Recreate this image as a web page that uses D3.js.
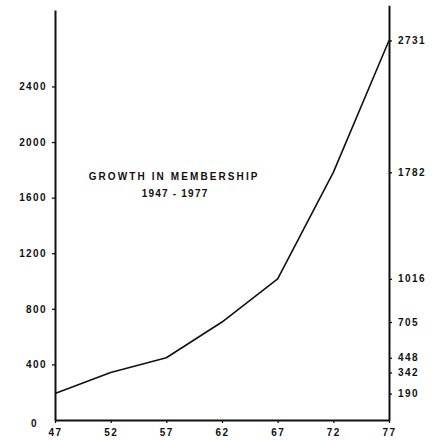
<!DOCTYPE html>
<html>
<head>
<meta charset="utf-8">
<script src="https://cdn.jsdelivr.net/npm/d3@7/dist/d3.min.js"></script>
<style>
  html, body { margin: 0; padding: 0; background: #fff; }
  svg { display: block; }
  text { font-family: "Liberation Sans", Arial, sans-serif; fill: #111; }
</style>
</head>
<body>
<svg id="chart" width="442" height="440"></svg>
<script>
// ---- data ----
const years = [1947, 1952, 1957, 1962, 1967, 1972, 1977];
const members = [190, 342, 448, 705, 1016, 1782, 2731];
const xTickLabels = ["47", "52", "57", "62", "67", "72", "77"];
const leftTicks = [0, 400, 800, 1200, 1600, 2000, 2400];
const rightTicks = [190, 342, 448, 705, 1016, 1782, 2731];
const titleLines = ["GROWTH IN MEMBERSHIP", "1947 - 1977"];
const leftAxisTop = 2950;
const rightAxisTop = 2985;

// ---- layout ----
const svg = d3.select("#chart");
const x = d3.scaleLinear().domain([1947, 1977]).range([55, 389]);
const y = d3.scaleLinear().domain([0, leftAxisTop]).range([420, 10]);

const fontSize = 10;
const letterSp = 1.4;

function styleAxis(g) {
  g.selectAll("text")
    .style("font-size", fontSize + "px")
    .style("font-weight", "bold")
    .style("letter-spacing", letterSp + "px")
    .attr("fill", "#111");
  g.selectAll("line").attr("stroke", "#111").attr("stroke-width", 1.3);
  g.select(".domain").attr("stroke", "#111").attr("stroke-width", 2);
}

// bottom axis
const gx = svg.append("g")
  .attr("transform", `translate(0,${y(0)})`)
  .call(d3.axisBottom(x)
    .tickValues(years)
    .tickFormat((d, i) => xTickLabels[i])
    .tickSize(3).tickSizeOuter(0).tickPadding(6));
styleAxis(gx);

// left axis
const gl = svg.append("g")
  .attr("transform", `translate(${x(1947)},0)`)
  .call(d3.axisLeft(y)
    .tickValues(leftTicks)
    .tickFormat(d3.format("d"))
    .tickSize(3).tickSizeOuter(0).tickPadding(5));
styleAxis(gl);
gl.selectAll(".tick").filter(d => d === 0).select("line").remove();
gl.selectAll(".tick").filter(d => d === 0).select("text")
  .attr("dx", -9).attr("dy", "0.62em");

// right axis
const yR = y.copy().domain([0, rightAxisTop]).range([y(0), y(rightAxisTop)]);
const gr = svg.append("g")
  .attr("transform", `translate(${x(1977)},0)`)
  .call(d3.axisRight(yR)
    .tickValues(rightTicks)
    .tickFormat(d3.format("d"))
    .tickSize(3).tickSizeOuter(0).tickPadding(6));
styleAxis(gr);

// line
const data = years.map((yr, i) => ({ yr, v: members[i] }));
svg.append("path")
  .datum(data)
  .attr("fill", "none")
  .attr("stroke", "#111")
  .attr("stroke-width", 1.6)
  .attr("stroke-linejoin", "round")
  .attr("d", d3.line().x(d => x(d.yr)).y(d => y(d.v)));

// title
const tx = x(1957.7);
svg.append("text")
  .attr("x", tx).attr("y", y(1727))
  .attr("text-anchor", "middle")
  .style("font-size", "10px")
  .style("font-weight", "bold")
  .style("letter-spacing", "2.1px")
  .text(titleLines[0]);
svg.append("text")
  .attr("x", tx + 1).attr("y", y(1604))
  .attr("text-anchor", "middle")
  .style("font-size", "10px")
  .style("font-weight", "bold")
  .style("letter-spacing", "1.2px")
  .text(titleLines[1]);
</script>
</body>
</html>
